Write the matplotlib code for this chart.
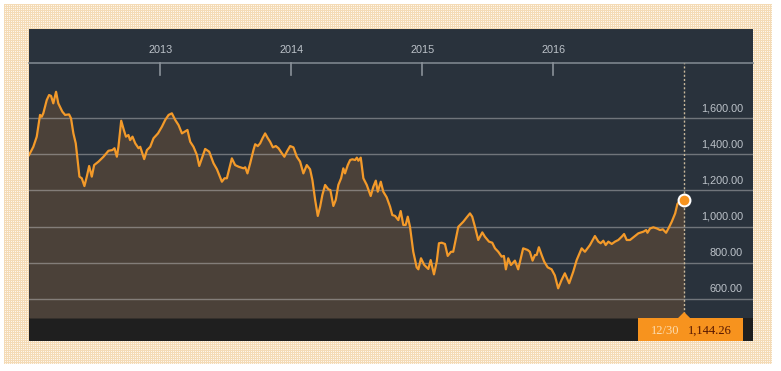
import datetime as dt
import numpy as np
import matplotlib
matplotlib.use("Agg")
import matplotlib.pyplot as plt
import matplotlib.dates as mdates
from matplotlib.patches import Rectangle, Polygon
import matplotlib.transforms as mtrans

# time as decimal year
t = [2012.000, 2012.033, 2012.059, 2012.084, 2012.097, 2012.109, 2012.135, 2012.153, 2012.168, 2012.185,
     2012.206, 2012.223, 2012.254, 2012.275, 2012.305, 2012.320, 2012.338, 2012.356, 2012.384, 2012.402,
     2012.422, 2012.440, 2012.458, 2012.478, 2012.496, 2012.529, 2012.567, 2012.605, 2012.635, 2012.651,
     2012.669, 2012.681, 2012.702, 2012.722, 2012.738, 2012.757, 2012.770, 2012.788, 2012.809, 2012.834,
     2012.847, 2012.877, 2012.898, 2012.923, 2012.948, 2012.982, 2013.012, 2013.037, 2013.063, 2013.088,
     2013.114, 2013.139, 2013.165, 2013.185, 2013.207, 2013.228, 2013.253, 2013.279, 2013.297, 2013.317,
     2013.342, 2013.373, 2013.406, 2013.432, 2013.470, 2013.490, 2013.508, 2013.546, 2013.571, 2013.597,
     2013.635, 2013.648, 2013.665, 2013.686, 2013.711, 2013.724, 2013.744, 2013.762, 2013.780, 2013.800,
     2013.821, 2013.838, 2013.859, 2013.882, 2013.902, 2013.928, 2013.947, 2013.966, 2013.991, 2014.016,
     2014.042, 2014.067, 2014.092, 2014.118, 2014.143, 2014.161, 2014.182, 2014.202, 2014.220, 2014.237,
     2014.258, 2014.283, 2014.298, 2014.321, 2014.339, 2014.359, 2014.380, 2014.397, 2014.410, 2014.431,
     2014.449, 2014.466, 2014.487, 2014.500, 2014.512, 2014.530, 2014.550, 2014.576, 2014.606, 2014.626,
     2014.645, 2014.660, 2014.683, 2014.702, 2014.728, 2014.754, 2014.771, 2014.792, 2014.817, 2014.835,
     2014.855, 2014.873, 2014.889, 2014.906, 2014.931, 2014.957, 2014.970, 2014.990, 2015.015, 2015.046,
     2015.064, 2015.089, 2015.110, 2015.127, 2015.148, 2015.173, 2015.194, 2015.219, 2015.236, 2015.262,
     2015.275, 2015.313, 2015.339, 2015.364, 2015.381, 2015.402, 2015.427, 2015.458, 2015.478, 2015.509,
     2015.534, 2015.555, 2015.580, 2015.606, 2015.623, 2015.638, 2015.656, 2015.677, 2015.707, 2015.732,
     2015.770, 2015.804, 2015.821, 2015.842, 2015.860, 2015.873, 2015.890, 2015.911, 2015.931, 2015.957,
     2015.987, 2016.012, 2016.037, 2016.063, 2016.088, 2016.121, 2016.152, 2016.178, 2016.216, 2016.241,
     2016.279, 2016.317, 2016.343, 2016.361, 2016.381, 2016.399, 2016.419, 2016.445, 2016.470, 2016.495,
     2016.521, 2016.539, 2016.559, 2016.584, 2016.610, 2016.648, 2016.686, 2016.707, 2016.717, 2016.737,
     2016.762, 2016.788, 2016.813, 2016.834, 2016.859, 2016.877, 2016.902, 2016.928, 2016.945, 2016.966,
     2016.996]
v = [1395, 1441, 1497, 1617, 1607, 1626, 1699, 1727, 1722, 1681,
     1745, 1681, 1635, 1617, 1620, 1598, 1515, 1460, 1276, 1267,
     1224, 1276, 1335, 1276, 1340, 1359, 1386, 1419, 1423, 1433,
     1386, 1441, 1585, 1534, 1497, 1506, 1478, 1497, 1460, 1433,
     1441, 1373, 1423, 1441, 1488, 1515, 1552, 1589, 1617, 1626,
     1589, 1561, 1515, 1524, 1534, 1469, 1441, 1396, 1335, 1377,
     1429, 1414, 1350, 1317, 1248, 1267, 1267, 1377, 1340, 1331,
     1322, 1328, 1294, 1350, 1423, 1455, 1445, 1460, 1488, 1515,
     1488, 1469, 1438, 1445, 1433, 1405, 1386, 1414, 1445, 1438,
     1386, 1359, 1294, 1340, 1317, 1257, 1147, 1059, 1110, 1175,
     1230, 1206, 1202, 1114, 1147, 1230, 1267, 1322, 1294, 1340,
     1368, 1372, 1368, 1381, 1364, 1381, 1267, 1230, 1169, 1220,
     1254, 1193, 1248, 1193, 1162, 1110, 1064, 1059, 1036, 1086,
     1009, 1009, 1055, 999, 861, 775, 764, 825, 788, 766,
     815, 736, 806, 908, 911, 904, 838, 861, 861, 954,
     999, 1027, 1051, 1073, 1055, 999, 926, 968, 944, 917,
     911, 880, 861, 834, 838, 764, 825, 788, 812, 764,
     880, 871, 861, 812, 843, 843, 886, 843, 806, 775,
     764, 730, 659, 705, 742, 687, 751, 815, 880, 861,
     898, 948, 917, 908, 922, 898, 917, 904, 917, 926,
     944, 959, 926, 926, 941, 963, 972, 981, 966, 990,
     996, 990, 981, 985, 966, 990, 1027, 1073, 1125, 1143,
     1144.26]

years = [2013, 2014, 2015, 2016]
y_ticks = [600, 800, 1000, 1200, 1400, 1600]
x_start, x_end = 2012.0, 2017.522
y_min, y_max = 495, 1904


def to_date(yr):
    y0 = int(yr)
    start = dt.datetime(y0, 1, 1)
    ndays = (dt.datetime(y0 + 1, 1, 1) - start).days
    return start + dt.timedelta(days=(yr - y0) * ndays)


dates = [to_date(x) for x in t]

W, H = 781, 371
fig = plt.figure(figsize=(W / 100, H / 100), dpi=100, facecolor="white")

# fine peach grid texture behind the panel
yy, xx = np.mgrid[0:360, 0:768]
grid = ((xx % 2 == 0) | (yy % 2 == 0))
tex = np.ones((360, 768, 3))
tex[grid] = np.array([0xf4, 0xdb, 0xb6]) / 255
tex[~grid] = np.array([0xfd, 0xf6, 0xec]) / 255
fig.figimage(tex, xo=4, yo=H - 364, zorder=0)


def frect(x0, y0, x1, y1, **kw):
    # rectangle in figure pixels (top-left origin)
    fig.patches.append(Rectangle((x0 / W, 1 - y1 / H), (x1 - x0) / W, (y1 - y0) / H,
                                 transform=fig.transFigure, **kw))


frect(29, 29, 753, 341, facecolor="#29323c", edgecolor="none", zorder=1)
frect(29, 318, 753, 341, facecolor="#1f1f1f", edgecolor="none", zorder=2)

ax = fig.add_axes([29 / W, (H - 318) / H, 724 / W, 255 / H])
ax.set_zorder(2.5)
ax.set_facecolor("none")
ax.set_xlim(to_date(x_start), to_date(x_end))
ax.set_ylim(y_min, y_max)
ax.axis("off")

ax.fill_between(dates, v, y_min, color="#4b4139", lw=0, zorder=1)
for yv in y_ticks:
    ax.axhline(yv, color="#c8c8c8", alpha=0.45, lw=1, zorder=2)
    ax.annotate(f"{yv:,.2f}", xy=(0.986, yv), xycoords=("axes fraction", "data"),
                xytext=(0, 5), textcoords="offset points", ha="right", va="baseline",
                fontsize=7.8, family="Liberation Sans", color="#bcc2c9")
ax.axhline(y_max, color="#7d858d", lw=1.2, zorder=2, clip_on=False)

bt = mtrans.blended_transform_factory(ax.transData, ax.transAxes)
for yr in years:
    d = dt.datetime(yr, 1, 1)
    ax.plot([d, d], [1, 0.953], transform=bt, color="#8a9199", lw=1.2, clip_on=False)
    ax.text(d, 1.051, str(yr), transform=bt, ha="center", va="center",
            fontsize=7.8, family="Liberation Sans", color="#bcc2c9")

ax.plot(dates, v, color="#f39a2a", lw=1.6, zorder=4, solid_joinstyle="round")

last_d, last_v = dates[-1], v[-1]
ax.plot([last_d, last_d], [0, 1], transform=bt, color="#c9b99c", lw=1,
        ls=(0, (1.5, 1.5)), zorder=3, clip_on=False)
ax.plot(last_d, last_v, "o", ms=8.5, mfc="#f7931e", mec="white", mew=1.5, zorder=5)

# value box in the bottom strip
frect(638, 318, 743, 341, facecolor="#f7931e", edgecolor="none", zorder=3)
px = ax.transData.transform((mdates.date2num(last_d), last_v))[0]
fig.patches.append(Polygon([((px - 6) / W, 1 - 318 / H), (px / W, 1 - 312 / H), ((px + 6) / W, 1 - 318 / H)],
                           closed=True, transform=fig.transFigure, facecolor="#f7931e",
                           edgecolor="none", zorder=3))
fig.text(665 / W, 1 - 331 / H, last_d.strftime("%m/%d"), ha="center", va="center",
         fontsize=9, family="Liberation Serif", color="#fbdcb0", zorder=4)
fig.text(710 / W, 1 - 331 / H, f"{last_v:,.2f}", ha="center", va="center",
         fontsize=9, family="Liberation Serif", color="#561600", zorder=4)

fig.savefig("out.png", dpi=100, facecolor=fig.get_facecolor())
